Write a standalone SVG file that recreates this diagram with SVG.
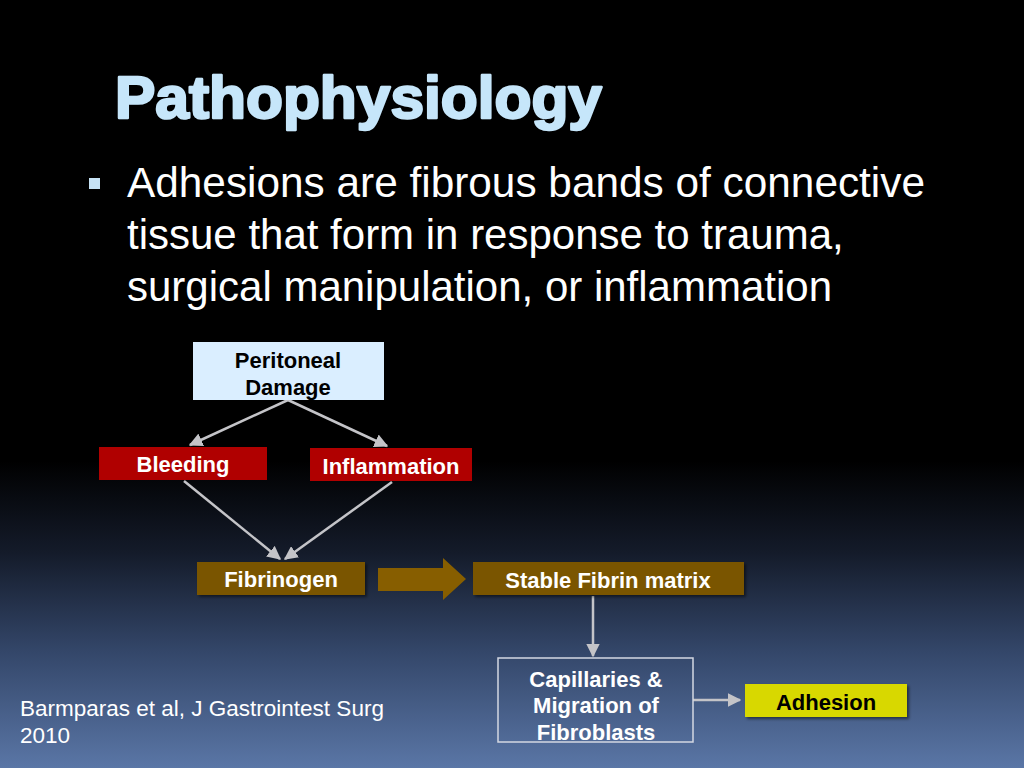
<svg xmlns="http://www.w3.org/2000/svg" width="1024" height="768" viewBox="0 0 1024 768">
<defs>
<linearGradient id="bg" x1="0" y1="0" x2="0" y2="768" gradientUnits="userSpaceOnUse">
<stop offset="0" stop-color="#000000"/>
<stop offset="0.6" stop-color="#000000"/>
<stop offset="0.72" stop-color="#141b2a"/>
<stop offset="0.85" stop-color="#34476a"/>
<stop offset="1" stop-color="#5a76a6"/>
</linearGradient>
<marker id="ah" viewBox="0 0 10 10" refX="9" refY="5" markerWidth="5.5" markerHeight="5.5" orient="auto" markerUnits="strokeWidth">
<path d="M0,0 L10,5 L0,10 z" fill="#c4c4c8"/>
</marker>
<filter id="sh" x="-10%" y="-20%" width="130%" height="150%">
<feDropShadow dx="2" dy="2" stdDeviation="1.5" flood-color="#000" flood-opacity="0.5"/>
</filter>
<style>
.t{font-family:"Liberation Sans",Arial,sans-serif;}
.nb{font-family:"Liberation Sans",Arial,sans-serif;font-weight:bold;font-size:22px;text-anchor:middle;}
.w{fill:#ffffff;}
.k{fill:#000000;}
.red{fill:#b00000;}
.brn{fill:#7a5500;}
.con{stroke:#c4c4c8;stroke-width:2.5;fill:none;marker-end:url(#ah);}
</style>
</defs>
<rect x="0" y="0" width="1024" height="768" fill="url(#bg)"/>

<text class="t" x="115" y="118" font-size="60" font-weight="bold" fill="#c6e6fa" stroke="#c6e6fa" stroke-width="2.5" stroke-linejoin="round" textLength="487" lengthAdjust="spacingAndGlyphs">Pathophysiology</text>

<rect x="89" y="178" width="11" height="11" fill="#c6e2f5"/>
<g class="t" font-size="42" fill="#ffffff">
<text x="127" y="197" textLength="798" lengthAdjust="spacingAndGlyphs">Adhesions are fibrous bands of connective</text>
<text x="127" y="249">tissue that form in response to trauma,</text>
<text x="127" y="301">surgical manipulation, or inflammation</text>
</g>

<text class="t" x="20" y="716" font-size="22.5" fill="#ffffff">Barmparas et al, J Gastrointest Surg</text>
<text class="t" x="20" y="743" font-size="22.5" fill="#ffffff">2010</text>

<g id="connectors">
<line class="con" x1="288" y1="400" x2="190" y2="445"/>
<line class="con" x1="288" y1="400" x2="387" y2="446"/>
<line class="con" x1="184" y1="481" x2="280" y2="559"/>
<line class="con" x1="392" y1="482" x2="285" y2="559"/>
<line class="con" x1="593" y1="596" x2="593" y2="656"/>
<line class="con" x1="693" y1="700" x2="740" y2="700" stroke-width="3"/>
<path d="M378,568 L443,568 L443,558 L466,579 L443,600 L443,591 L378,591 z" fill="#875e00"/>
</g>

<g id="peritoneal">
<rect x="193" y="342" width="191" height="58" fill="#daeeff"/>
<text class="nb k" x="288" y="368">Peritoneal</text>
<text class="nb k" x="288" y="395">Damage</text>
</g>
<g id="bleeding">
<rect x="99" y="447" width="168" height="33" class="red"/>
<text class="nb w" x="183" y="472">Bleeding</text>
</g>
<g id="inflammation">
<rect x="310" y="448" width="162" height="33" class="red"/>
<text class="nb w" x="391" y="474">Inflammation</text>
</g>
<g id="fibrinogen">
<rect x="197" y="562" width="168" height="33" class="brn" filter="url(#sh)"/>
<text class="nb w" x="281" y="587">Fibrinogen</text>
</g>
<g id="fibrin-matrix">
<rect x="473" y="562" width="271" height="33" class="brn" filter="url(#sh)"/>
<text class="nb w" x="608" y="588">Stable Fibrin matrix</text>
</g>
<g id="capillaries">
<rect x="498" y="658" width="195" height="84" fill="none" stroke="#d4d8e2" stroke-width="1.5"/>
<text class="nb w" x="596" y="687">Capillaries &amp;</text>
<text class="nb w" x="596" y="713">Migration of</text>
<text class="nb w" x="596" y="740">Fibroblasts</text>
</g>
<g id="adhesion">
<rect x="745" y="684" width="162" height="33" fill="#d8d800" filter="url(#sh)"/>
<text class="nb k" x="826" y="710">Adhesion</text>
</g>
</svg>
